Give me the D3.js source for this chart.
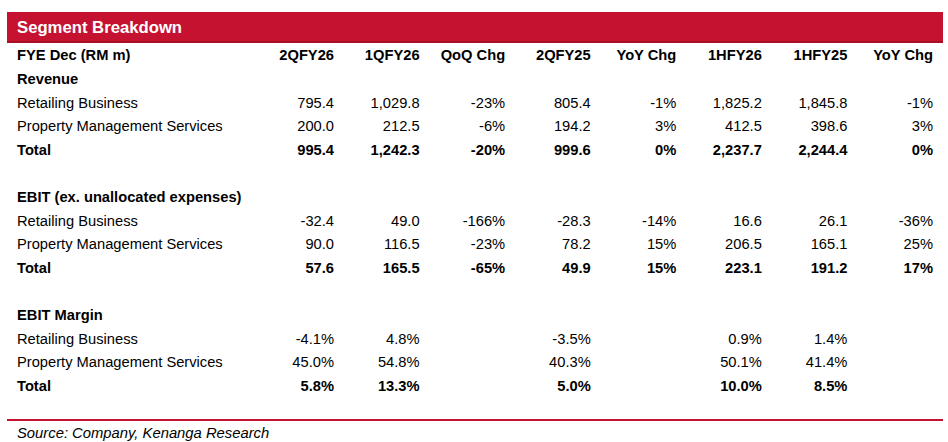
<!DOCTYPE html>
<html>
<head>
<meta charset="utf-8">
<script src="https://cdn.jsdelivr.net/npm/d3@7"></script>
<style>
  html, body { margin: 0; padding: 0; background: #fff; }
  svg { display: block; }
  text { font-family: "Liberation Sans", Arial, sans-serif; fill: #000; }
</style>
</head>
<body>
<script>
// ---- Data ----
const title = "Segment Breakdown";
const headerLabel = "FYE Dec (RM m)";
const columns = ["2QFY26", "1QFY26", "QoQ Chg", "2QFY25", "YoY Chg", "1HFY26", "1HFY25", "YoY Chg"];
const changeColumns = [2, 4, 7];
const sections = ["Revenue", "EBIT (ex. unallocated expenses)", "EBIT Margin"];
const segments = ["Retailing Business", "Property Management Services", "Total"];

const revenue = [
  [795.4, 1029.8, -23, 805.4, -1, 1825.2, 1845.8, -1],
  [200.0, 212.5, -6, 194.2, 3, 412.5, 398.6, 3],
  [995.4, 1242.3, -20, 999.6, 0, 2237.7, 2244.4, 0]
];
const ebit = [
  [-32.4, 49.0, -166, -28.3, -14, 16.6, 26.1, -36],
  [90.0, 116.5, -23, 78.2, 15, 206.5, 165.1, 25],
  [57.6, 165.5, -65, 49.9, 15, 223.1, 191.2, 17]
];
const margin = [
  [-4.1, 4.8, null, -3.5, null, 0.9, 1.4, null],
  [45.0, 54.8, null, 40.3, null, 50.1, 41.4, null],
  [5.8, 13.3, null, 5.0, null, 10.0, 8.5, null]
];
const source = "Source: Company, Kenanga Research";

// ---- Build rows ----
const locale = d3.formatLocale({decimal: ".", thousands: ",", grouping: [3], currency: ["", ""], minus: "-"});
const fNum = locale.format(",.1f");
const fPct0 = locale.format(".0f");
const fPct1 = locale.format(".1f");

const blocks = [revenue, ebit, margin];
const rows = [];
rows.push({label: headerLabel, cells: columns, bold: true});
blocks.forEach((block, bi) => {
  if (bi > 0) rows.push({label: "", cells: [], bold: false});
  rows.push({label: sections[bi], cells: [], bold: true});
  block.forEach((vals, si) => {
    const cells = vals.map((v, ci) => {
      if (v === null) return "";
      if (bi === 2) return fPct1(v) + "%";
      if (changeColumns.includes(ci)) return fPct0(v) + "%";
      return fNum(v);
    });
    rows.push({label: segments[si], cells, bold: segments[si] === "Total"});
  });
});

// ---- Draw ----
const W = 948, H = 442;
const svg = d3.select("body").append("svg").attr("width", W).attr("height", H);

const left = 7, right = 943;
const red = "#c41230";

// Title bar
svg.append("rect").attr("x", left).attr("y", 12).attr("width", right - left).attr("height", 30).attr("fill", red);
svg.append("rect").attr("x", left).attr("y", 41).attr("width", right - left).attr("height", 2).attr("fill", "#a80f22");
svg.append("text").attr("x", 17).attr("y", 33)
  .style("font-size", "16.7px").style("font-weight", "bold").style("fill", "#fff")
  .text(title);

const y = d3.scaleLinear().domain([0, rows.length - 1]).range([55, 385.4]);
const x = d3.scaleLinear().domain([0, columns.length - 1]).range([334, 933]);
const fs = 14.7;
const baseOff = 5.3;

const g = svg.append("g");
const rowG = g.selectAll("g.row").data(rows).join("g").attr("class", "row")
  .attr("transform", (d, i) => `translate(0,${y(i) + baseOff})`)
  .style("font-size", fs + "px")
  .style("font-weight", d => d.bold ? "bold" : "normal");

rowG.append("text").attr("x", 17).text(d => d.label);
rowG.selectAll("text.cell").data(d => d.cells).join("text").attr("class", "cell")
  .attr("x", (d, i) => x(i)).attr("text-anchor", "end").text(d => d);

// Bottom rule
svg.append("rect").attr("x", left).attr("y", 419).attr("width", right - left).attr("height", 2).attr("fill", red);
svg.append("text").attr("x", 17).attr("y", 438)
  .style("font-size", "14.8px").style("font-style", "italic")
  .text(source);
</script>
</body>
</html>
